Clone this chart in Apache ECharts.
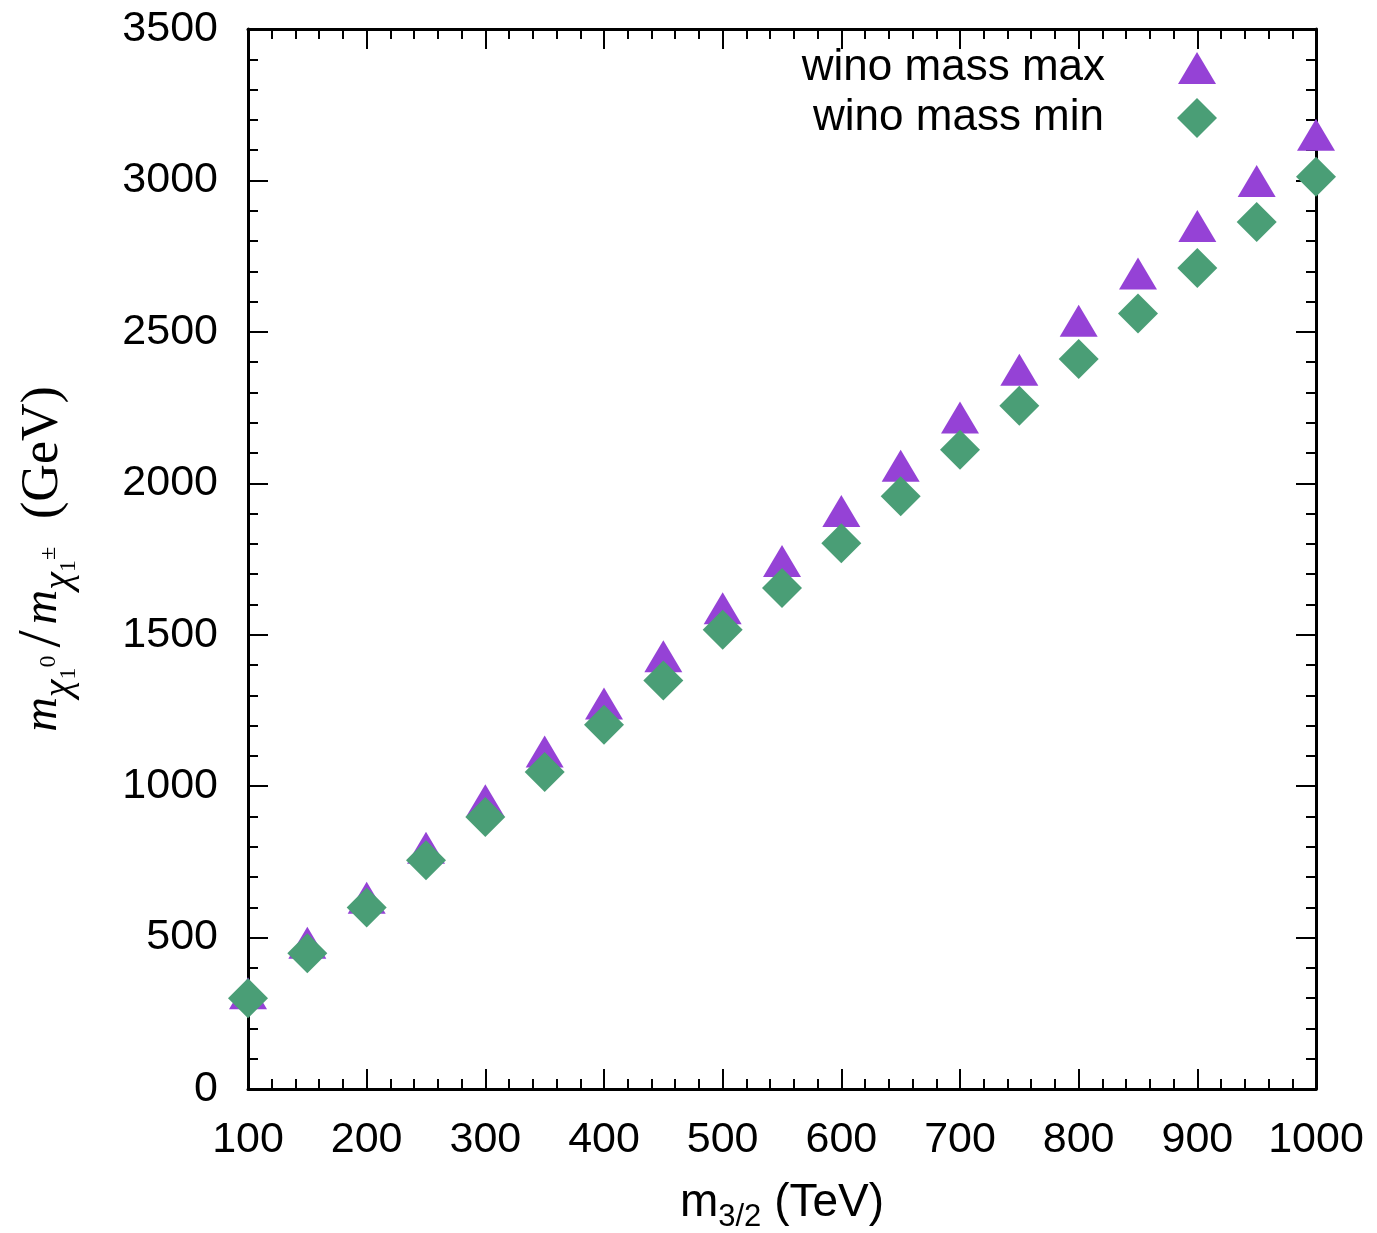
<!DOCTYPE html>
<html>
<head>
<meta charset="utf-8">
<script src="https://cdn.jsdelivr.net/npm/echarts@6/dist/echarts.min.js"></script>
<style>
  html, body { margin: 0; padding: 0; background: #fff; }
  #chart { width: 1377px; height: 1233px; }
</style>
</head>
<body>
<div id="chart"></div>
<script>
// m3/2 values (TeV)
const m32 = [100, 150, 200, 250, 300, 350, 400, 450, 500, 550, 600, 650, 700, 750, 800, 850, 900, 950, 1000];
// wino mass (GeV)
const winoMax = [300, 466, 615, 780, 937, 1098, 1256, 1412, 1571, 1727, 1892, 2041, 2201, 2358, 2520, 2676, 2833, 2982, 3134];
const winoMin = [300, 448, 599, 755, 898, 1047, 1203, 1349, 1516, 1654, 1802, 1957, 2111, 2256, 2410, 2561, 2711, 2863, 3012];

const seriesNames = ["wino mass max", "wino mass min"];
const purple = "#9542d6";
const green = "#4a9e76";
const sans = "Liberation Sans";
const serif = "Liberation Serif";

let chartDom = document.getElementById("chart");
let myChart = echarts.init(chartDom);
let option;

const tickStyle = { color: "#000", width: 2 };
const lineStyle = { color: "#000", width: 3 };

function frameAxis(extra) {
  return Object.assign({
    type: "value",
    axisLine: { show: true, onZero: false, lineStyle: lineStyle },
    axisTick: { show: true, inside: true, length: 20, lineStyle: tickStyle },
    minorTick: { show: true, splitNumber: 5, length: 10, lineStyle: tickStyle },
    splitLine: { show: false },
    minorSplitLine: { show: false },
  }, extra);
}

const plainNum = (v) => String(v);

option = {
  animation: false,
  backgroundColor: "#fff",
  grid: { left: 248, right: 61, top: 29, bottom: 144, containLabel: false, outerBoundsMode: "none" },
  legend: [
    {
      data: [seriesNames[0]],
      orient: "vertical",
      align: "right",
      right: 161,
      top: 46,
      padding: 0,
      icon: "triangle",
      itemWidth: 38,
      itemHeight: 32,
      textStyle: { fontFamily: sans, fontSize: 44, color: "#000", padding: [0, 68, 0, 0] },
    },
    {
      data: [seriesNames[1]],
      orient: "vertical",
      align: "right",
      right: 160,
      top: 96,
      padding: 0,
      icon: "diamond",
      itemWidth: 40,
      itemHeight: 40,
      textStyle: { fontFamily: sans, fontSize: 44, color: "#000", padding: [2, 68, 0, 0] },
    },
  ],
  xAxis: [
    frameAxis({
      min: 100,
      max: 1000,
      interval: 100,
      position: "bottom",
      axisLabel: { margin: 30, fontFamily: sans, fontSize: 43, color: "#000", formatter: plainNum },
      name: "{it|m}{sub|3/2}{rm| (TeV)}",
      nameLocation: "middle",
      nameGap: 84,
      nameTextStyle: {
        fontFamily: sans,
        fontSize: 46,
        color: "#000",
        rich: {
          it: { fontFamily: sans, fontSize: 46, lineHeight: 60, color: "#000" },
          sub: { fontFamily: sans, fontSize: 31, verticalAlign: "bottom", color: "#000" },
          rm: { fontFamily: sans, fontSize: 46, lineHeight: 60, color: "#000" },
        },
      },
    }),
    frameAxis({
      min: 100,
      max: 1000,
      interval: 100,
      position: "top",
      axisLabel: { show: false },
    }),
  ],
  yAxis: [
    frameAxis({
      min: 0,
      max: 3500,
      interval: 500,
      position: "left",
      axisLabel: { margin: 30, fontFamily: sans, fontSize: 43, color: "#000", formatter: plainNum },
      name: "{it|m}{chi|χ}{sub|1}{sup|0}{sl|/}{it|m}{chi|χ}{sub|1}{sup|±}{rm|(GeV)}",
      nameLocation: "middle",
      nameRotate: 90,
      nameGap: 165,
      nameTextStyle: {
        fontFamily: serif,
        fontSize: 52,
        color: "#000",
        rich: {
          it: { fontFamily: serif, fontStyle: "italic", fontSize: 48, lineHeight: 80, color: "#000" },
          chi: { fontFamily: serif, fontStyle: "italic", fontSize: 40, verticalAlign: "bottom", padding: [0, 0, 4, 0], color: "#000" },
          sub: { fontFamily: serif, fontSize: 24, verticalAlign: "bottom", padding: [0, 0, 2, 0], color: "#000" },
          sup: { fontFamily: serif, fontSize: 24, verticalAlign: "bottom", padding: [0, 0, 22, 0], color: "#000" },
          sl: { fontFamily: serif, fontSize: 62, lineHeight: 80, padding: [0, 6, 0, 8], color: "#000" },
          rm: { fontFamily: serif, fontSize: 52, lineHeight: 80, padding: [0, 0, 0, 28], color: "#000" },
        },
      },
    }),
    frameAxis({
      min: 0,
      max: 3500,
      interval: 500,
      position: "right",
      axisLabel: { show: false },
    }),
  ],
  series: [
    {
      name: seriesNames[0],
      type: "scatter",
      symbol: "triangle",
      symbolSize: [38, 32],
      symbolOffset: [0, -5],
      itemStyle: { color: purple, opacity: 1 },
      data: m32.map((x, i) => [x, winoMax[i]]),
    },
    {
      name: seriesNames[1],
      type: "scatter",
      symbol: "diamond",
      symbolSize: [40, 40],
      itemStyle: { color: green, opacity: 1 },
      data: m32.map((x, i) => [x, winoMin[i]]),
    },
  ],
};

option && myChart.setOption(option);
</script>
</body>
</html>
